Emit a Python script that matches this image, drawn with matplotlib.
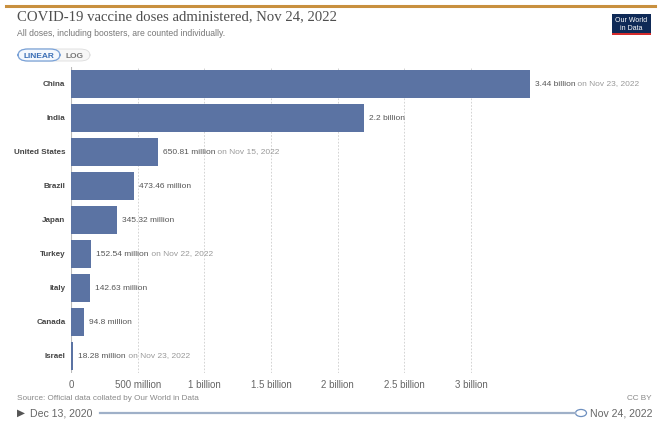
import matplotlib
matplotlib.use("Agg")
import matplotlib.pyplot as plt
from matplotlib.patches import FancyBboxPatch, Rectangle, Circle
from matplotlib.lines import Line2D

countries = ["China", "India", "United States", "Brazil", "Japan", "Turkey", "Italy", "Canada", "Israel"]
values = [3.44e9, 2.2e9, 650.81e6, 473.46e6, 345.32e6, 152.54e6, 142.63e6, 94.8e6, 18.28e6]
value_labels = ["3.44 billion", "2.2 billion", "650.81 million", "473.46 million", "345.32 million",
                "152.54 million", "142.63 million", "94.8 million", "18.28 million"]
date_notes = ["on Nov 23, 2022", "", "on Nov 15, 2022", "", "", "on Nov 22, 2022", "", "", "on Nov 23, 2022"]
tick_values = [0, 0.5e9, 1e9, 1.5e9, 2e9, 2.5e9, 3e9]
tick_labels = ["0", "500 million", "1 billion", "1.5 billion", "2 billion", "2.5 billion", "3 billion"]

W, H = 660, 424
fig = plt.figure(figsize=(W / 100, H / 100), dpi=100)
plt.rcParams['font.family'] = ['Liberation Sans', 'DejaVu Sans']

def fx(px):
    return px / W

def fy(py):
    return 1 - py / H

# top orange line
fig.add_artist(Line2D([fx(6), fx(655)], [fy(6), fy(6)], color="#c8903f", lw=2.2))

fig.text(fx(17), fy(17), "COVID-19 vaccine doses administered, Nov 24, 2022",
         family=['Liberation Serif', 'DejaVu Serif'], fontsize=10.6, color="#4f4f4f", va="center")
fig.text(fx(17), fy(33), "All doses, including boosters, are counted individually.",
         fontsize=6.2, color="#777777", va="center")

# LINEAR / LOG buttons
fig.add_artist(FancyBboxPatch((fx(18), fy(61)), fx(72), (12 / H), boxstyle="round,pad=0,rounding_size=0.015",
                              fc="#f7f7f7", ec="#dddddd", lw=0.6, transform=fig.transFigure))
fig.add_artist(FancyBboxPatch((fx(18), fy(61)), fx(42), (12 / H), boxstyle="round,pad=0,rounding_size=0.015",
                              fc="#f4f8fd", ec="#7aa2d8", lw=0.9, transform=fig.transFigure))
fig.text(fx(39), fy(55.5), "LINEAR", fontsize=6.0, color="#3b6fb6", weight="bold", ha="center", va="center_baseline")
fig.text(fx(75), fy(55.5), "LOG", fontsize=6.0, color="#777777", weight="bold", ha="center", va="center_baseline")

# logo
fig.add_artist(Rectangle((fx(612), fy(33)), fx(39), 19 / H, fc="#0f2a57", ec="none", transform=fig.transFigure))
fig.add_artist(Rectangle((fx(612), fy(35)), fx(39), 2 / H, fc="#d42b2b", ec="none", transform=fig.transFigure))
fig.text(fx(631.5), fy(20), "Our World", fontsize=5.0, color="white", ha="center", va="center")
fig.text(fx(631.5), fy(28), "in Data", fontsize=5.0, color="white", ha="center", va="center")

# axes
ax_left, ax_right, ax_top, ax_bottom = 71, 600, 67, 373
ax = fig.add_axes([fx(ax_left), fy(ax_bottom), fx(ax_right - ax_left), (ax_bottom - ax_top) / H])
px_per_unit = 133.33 / 1e9
ax.set_xlim(0, (ax_right - ax_left) / px_per_unit)
ax.set_ylim(len(countries) - 0.5, -0.5)
ypos = list(range(len(countries)))
ax.barh(ypos, values, height=0.8, color="#5b73a3", zorder=2)
for s in ax.spines.values():
    s.set_visible(False)
ax.set_yticks(ypos)
ax.set_yticklabels(countries, fontsize=5.8, weight="bold", color="#444444")
ax.tick_params(axis="y", length=0, pad=4)
ax.set_xticks(tick_values)
ax.set_xticklabels(tick_labels, fontsize=7.0, color="#666666")
ax.tick_params(axis="x", length=0, pad=5)
for t in tick_values[1:]:
    ax.axvline(t, color="#cccccc", lw=0.6, ls=(0, (2, 2)), zorder=1)
ax.axvline(0, color="#bbbbbb", lw=0.8, zorder=1)

for i, (v, lab, note) in enumerate(zip(values, value_labels, date_notes)):
    x0 = v + 5 / px_per_unit
    t = ax.text(x0, i, lab, fontsize=6.0, color="#555555", va="center")
    if note:
        ax.annotate(" " + note, xycoords=t, xy=(1, 0.5), va="center", fontsize=6.0, color="#999999")

# footer
fig.text(fx(17), fy(398), "Source: Official data collated by Our World in Data", fontsize=5.9, color="#888888", va="center")
fig.text(fx(652), fy(398), "CC BY", fontsize=5.9, color="#888888", va="center", ha="right")

fig.text(fx(17), fy(413), "\u25b6", fontsize=7.5, color="#555555", va="center",
         family=['DejaVu Sans'])
fig.text(fx(30), fy(413), "Dec 13, 2020", fontsize=7.6, color="#666666", va="center")
fig.add_artist(Line2D([fx(100), fx(575)], [fy(413), fy(413)], color="#9fb0c8", lw=1.6))
fig.add_artist(Circle((fx(581), fy(413)), 5.5 / W, fc="white", ec="#6d8fbf", lw=0.9,
                      transform=fig.transFigure))
fig.text(fx(590), fy(413), "Nov 24, 2022", fontsize=7.6, color="#666666", va="center")

fig.savefig("out.png", dpi=100)
